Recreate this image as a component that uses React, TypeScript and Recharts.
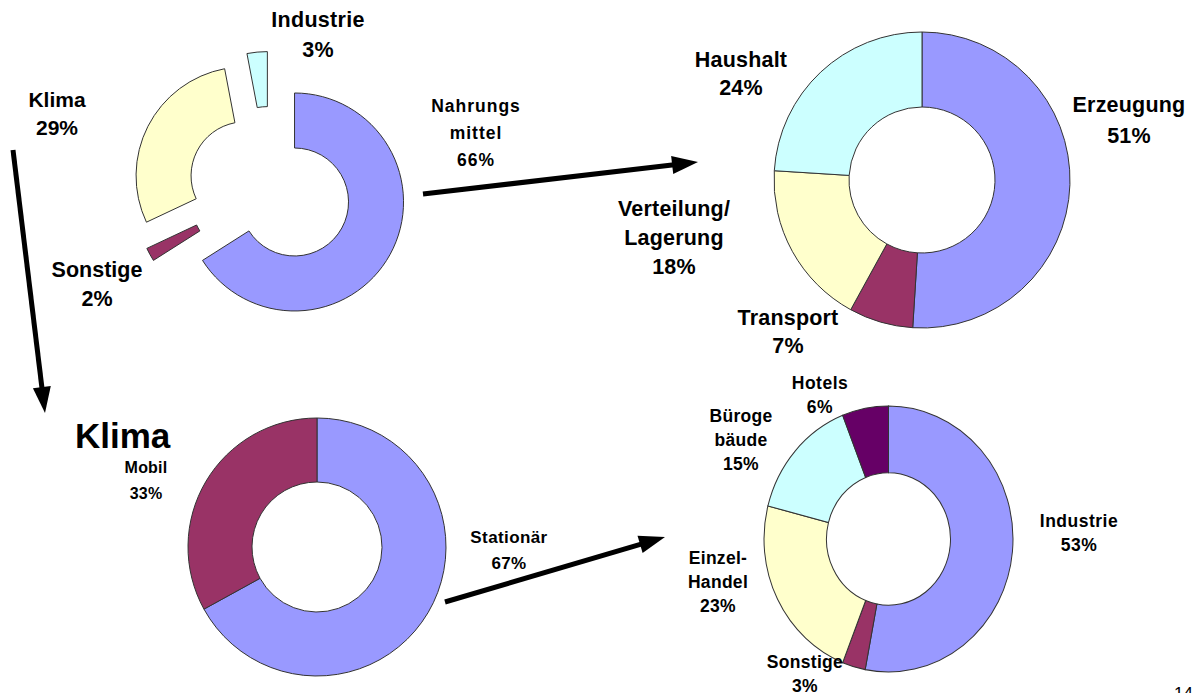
import React from 'react';
import { PieChart, Pie, Cell } from 'recharts';

// ---------- DATA ----------
const foodNames = ['Nahrungsmittel', 'Sonstige', 'Klima', 'Industrie'];
const foodLabelLines = [['Nahrungs', 'mittel'], ['Sonstige'], ['Klima'], ['Industrie']];
const foodValues = [66, 2, 29, 3];

const chainNames = ['Erzeugung', 'Transport', 'Verteilung/Lagerung', 'Haushalt'];
const chainLabelLines = [['Erzeugung'], ['Transport'], ['Verteilung/', 'Lagerung'], ['Haushalt']];
const chainValues = [51, 7, 18, 24];

const klimaNames = ['Stationär', 'Mobil'];
const klimaLabelLines = [['Stationär'], ['Mobil']];
const klimaValues = [67, 33];

const statNames = ['Industrie', 'Sonstige', 'Einzelhandel', 'Bürogebäude', 'Hotels'];
const statLabelLines = [['Industrie'], ['Sonstige'], ['Einzel-', 'Handel'], ['Büroge', 'bäude'], ['Hotels']];
const statValues = [53, 3, 23, 15, 6];

const klimaTitle = 'Klima';
const pageNumber = '14';

// ---------- STYLE ----------
const BLUE = '#9999FF';
const MAROON = '#993366';
const YELLOW = '#FFFFCC';
const CYAN = '#CCFFFF';
const PURPLE = '#660066';
const foodColors = [BLUE, MAROON, YELLOW, CYAN];
const chainColors = [BLUE, MAROON, YELLOW, CYAN];
const klimaColors = [BLUE, MAROON];
const statColors = [BLUE, MAROON, YELLOW, CYAN, PURPLE];

const FONT = '"Liberation Sans", Arial, sans-serif';
const STROKE = '#333';
const M = 5; // PieChart default margin

const toRows = (names: string[], values: number[]) =>
  names.map((n, i) => ({ name: n, value: values[i] }));

// label layout: [x, firstBaseline, lineHeight, fontSize, letterSpacing]
const foodLabelPos = [
  [476, 112, 27, 17.5, 1],
  [97, 277, 29, 21.5, 0],
  [57, 107, 28, 21, 0],
  [318, 27, 30, 21.5, 0.3],
];
const chainLabelPos = [
  [1129, 112, 31, 21.5, 0.2],
  [788, 325, 28, 21.5, 0.2],
  [674, 216, 29, 21.5, 0.2],
  [741, 67, 28, 21.5, 0.2],
];
const klimaLabelPos = [
  [509, 543, 26, 17, 0.4],
  [146, 473, 26, 16, 0.2],
];
const statLabelPos = [
  [1079, 527, 24, 17.5, 0.5],
  [805, 668, 24, 17.5, 0.3],
  [718, 564, 24, 17.5, 0.3],
  [741, 422, 24, 17.5, 0.3],
  [820, 389, 24, 17.5, 0.5],
];

function Labels({ lines, values, pos }: { lines: string[][]; values: number[]; pos: number[][] }) {
  return (
    <>
      {lines.map((ls, i) => {
        const [x, y, lh, fs, ls2] = pos[i];
        const all = [...ls, `${values[i]}%`];
        return (
          <text
            key={i}
            x={x}
            y={y}
            textAnchor="middle"
            fontFamily={FONT}
            fontWeight="bold"
            fontSize={fs}
            letterSpacing={ls2}
            fill="#000"
          >
            {all.map((t, j) => (
              <tspan key={j} x={x} y={y + j * lh}>
                {t}
              </tspan>
            ))}
          </text>
        );
      })}
    </>
  );
}

function Arrow({ x1, y1, x2, y2 }: { x1: number; y1: number; x2: number; y2: number }) {
  const dx = x2 - x1;
  const dy = y2 - y1;
  const len = Math.sqrt(dx * dx + dy * dy);
  const ux = dx / len;
  const uy = dy / len;
  const L = 26;
  const W = 9;
  const bx = x2 - ux * L;
  const by = y2 - uy * L;
  const px = -uy;
  const py = ux;
  return (
    <g>
      <line x1={x1} y1={y1} x2={bx + ux * 2} y2={by + uy * 2} stroke="#000" strokeWidth={5} />
      <polygon
        points={`${x2},${y2} ${bx + px * W},${by + py * W} ${bx - px * W},${by - py * W}`}
        fill="#000"
      />
    </g>
  );
}

// exploded donut: each slice is its own Pie, angles derived from the data
const EXPLODE = 28;
const FOOD_CX = 270;
const FOOD_CY = 188.5;
function explodedSlices(values: number[]) {
  const total = values.reduce((a, b) => a + b, 0);
  let cum = 0;
  return values.map((v) => {
    const start = 90 - (360 * cum) / total;
    const end = 90 - (360 * (cum + v)) / total;
    cum += v;
    const mid = ((start + end) / 2) * (Math.PI / 180);
    return {
      start,
      end,
      cx: FOOD_CX + EXPLODE * Math.cos(mid),
      cy: FOOD_CY - EXPLODE * Math.sin(mid),
    };
  });
}

export default function App() {
  const foodRows = toRows(foodNames, foodValues);
  const slices = explodedSlices(foodValues);
  const chainRows = toRows(chainNames, chainValues);
  const klimaRows = toRows(klimaNames, klimaValues);
  const statRows = toRows(statNames, statValues);

  return (
    <div style={{ position: 'absolute', left: 0, top: 0, width: 1194, height: 693, background: '#fff', overflow: 'hidden' }}>
      <div style={{ position: 'absolute', left: 0, top: 0 }}>
        <PieChart width={1194} height={693}>
          {foodRows.map((row, i) => (
            <Pie
              key={row.name}
              data={[row]}
              dataKey="value"
              nameKey="name"
              cx={slices[i].cx - M}
              cy={slices[i].cy - M}
              startAngle={slices[i].start}
              endAngle={slices[i].end}
              innerRadius={54}
              outerRadius={109}
              stroke={STROKE}
              strokeWidth={1}
              isAnimationActive={false}
            >
              <Cell fill={foodColors[i]} />
            </Pie>
          ))}
          <Pie
            data={chainRows}
            dataKey="value"
            nameKey="name"
            cx={922 - M}
            cy={180 - M}
            startAngle={90}
            endAngle={-270}
            innerRadius={73}
            outerRadius={148}
            stroke={STROKE}
            strokeWidth={1}
            isAnimationActive={false}
          >
            {chainRows.map((r, i) => (
              <Cell key={r.name} fill={chainColors[i]} />
            ))}
          </Pie>
          <Pie
            data={klimaRows}
            dataKey="value"
            nameKey="name"
            cx={317 - M}
            cy={547 - M}
            startAngle={90}
            endAngle={-270}
            innerRadius={65}
            outerRadius={129}
            stroke={STROKE}
            strokeWidth={1}
            isAnimationActive={false}
          >
            {klimaRows.map((r, i) => (
              <Cell key={r.name} fill={klimaColors[i]} />
            ))}
          </Pie>
        </PieChart>
      </div>
      <div
        style={{
          position: 'absolute',
          left: 0,
          top: 0,
          transform: 'scaleY(1.068)',
          transformOrigin: '888.5px 539px',
        }}
      >
        <PieChart width={1194} height={693}>
          <Pie
            data={statRows}
            dataKey="value"
            nameKey="name"
            cx={888.5 - M}
            cy={539 - M}
            startAngle={90}
            endAngle={-270}
            innerRadius={62}
            outerRadius={124.5}
            stroke={STROKE}
            strokeWidth={1}
            isAnimationActive={false}
          >
            {statRows.map((r, i) => (
              <Cell key={r.name} fill={statColors[i]} />
            ))}
          </Pie>
        </PieChart>
      </div>
      <svg width={1194} height={693} style={{ position: 'absolute', left: 0, top: 0, pointerEvents: 'none' }}>
        <Labels lines={foodLabelLines} values={foodValues} pos={foodLabelPos} />
        <Labels lines={chainLabelLines} values={chainValues} pos={chainLabelPos} />
        <Labels lines={klimaLabelLines} values={klimaValues} pos={klimaLabelPos} />
        <Labels lines={statLabelLines} values={statValues} pos={statLabelPos} />
        <text x={75} y={448} fontFamily={FONT} fontWeight="bold" fontSize={35} fill="#000">
          {klimaTitle}
        </text>
        <text x={1174} y={699} fontFamily={FONT} fontSize={17} fill="#000">
          {pageNumber}
        </text>
        <Arrow x1={13} y1={150} x2={45} y2={413} />
        <Arrow x1={423} y1={194} x2={698} y2={162} />
        <Arrow x1={445} y1={602} x2={665} y2={537} />
      </svg>
    </div>
  );
}
